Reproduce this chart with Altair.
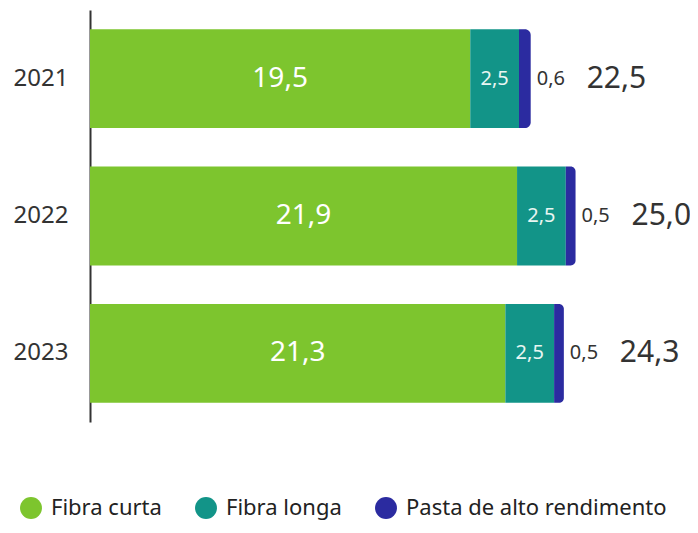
import altair as alt
import pandas as pd

years = ["2021", "2022", "2023"]
fibra_curta = [19.5, 21.9, 21.3]
fibra_longa = [2.5, 2.5, 2.5]
pasta = [0.6, 0.5, 0.5]
totals = [22.5, 25.0, 24.3]
series = ["Fibra curta", "Fibra longa", "Pasta de alto rendimento"]
colors = ["#7DC52E", "#129488", "#2B2BA0"]

rows = []
for i, y in enumerate(years):
    for s, v in zip(series, [fibra_curta[i], fibra_longa[i], pasta[i]]):
        rows.append({"year": y, "serie": s, "value": v, "order": series.index(s)})
df = pd.DataFrame(rows)
tot = pd.DataFrame({"year": years, "total": totals,
                    "end": [a + b + c for a, b, c in zip(fibra_curta, fibra_longa, pasta)]})

FONT = "Noto Sans"

yenc = alt.Y("year:N", title=None, sort=years,
             scale=alt.Scale(paddingInner=0.28, paddingOuter=0.14),
             axis=alt.Axis(ticks=False, labelFontSize=24, labelColor="#333333",
                           labelFont=FONT, labelPadding=22, domainColor="#333333",
                           domainWidth=2))
xscale = alt.Scale(domain=[0, 30])

base = alt.Chart(df).transform_stack(
    stack="value", groupby=["year"], as_=["x0", "x1"],
    sort=[alt.SortField("order", "ascending")]
).transform_calculate(
    label="replace(format(datum.value, '.1f'), '.', ',')",
    mid="(datum.x0 + datum.x1) / 2"
)

color_enc = alt.Color("serie:N", sort=series,
                      scale=alt.Scale(domain=series, range=colors),
                      legend=alt.Legend(title=None, orient="none", direction="horizontal",
                                        legendX=-70, legendY=487,
                                        symbolType="circle", symbolSize=480,
                                        labelFontSize=22, labelFont=FONT,
                                        labelColor="#222222",
                                        columnPadding=33, symbolStrokeWidth=0,
                                        labelOffset=9, labelLimit=400))

bars = base.transform_filter("datum.serie != 'Pasta de alto rendimento'").mark_bar().encode(
    y=yenc,
    x=alt.X("x0:Q", scale=xscale, axis=None),
    x2="x1:Q",
    color=color_enc,
)
pasta_bar = base.transform_filter("datum.serie == 'Pasta de alto rendimento'").mark_bar(
    cornerRadiusTopRight=7, cornerRadiusBottomRight=7).encode(
    y=yenc,
    x=alt.X("x0:Q", scale=xscale, axis=None),
    x2="x1:Q",
    color=color_enc,
)

curta_txt = base.transform_filter("datum.serie == 'Fibra curta'").mark_text(
    color="white", fontSize=28, font=FONT).encode(
    y=yenc, x=alt.X("mid:Q", scale=xscale, axis=None), text="label:N")
longa_txt = base.transform_filter("datum.serie == 'Fibra longa'").mark_text(
    color="#E8F6F2", fontSize=20, font=FONT).encode(
    y=yenc, x=alt.X("mid:Q", scale=xscale, axis=None), text="label:N")
pasta_txt = base.transform_filter("datum.serie == 'Pasta de alto rendimento'").mark_text(
    color="#333333", fontSize=20, font=FONT, align="left", dx=6).encode(
    y=yenc, x=alt.X("x1:Q", scale=xscale, axis=None), text="label:N")

tot_txt = alt.Chart(tot).transform_calculate(
    label="replace(format(datum.total, '.1f'), '.', ',')"
).mark_text(color="#333333", fontSize=30, font=FONT, align="left", dx=56).encode(
    y=yenc, x=alt.X("end:Q", scale=xscale, axis=None), text="label:N")

chart = alt.layer(bars, pasta_bar, curta_txt, longa_txt, pasta_txt, tot_txt).properties(
    width=585, height=412,
    autosize=alt.AutoSizeParams(type="none"),
    padding={"left": 82, "top": 2, "right": 15, "bottom": 103},
).configure_view(stroke=None)

chart.save("out.html", embed_options={"renderer": "svg", "actions": False})
